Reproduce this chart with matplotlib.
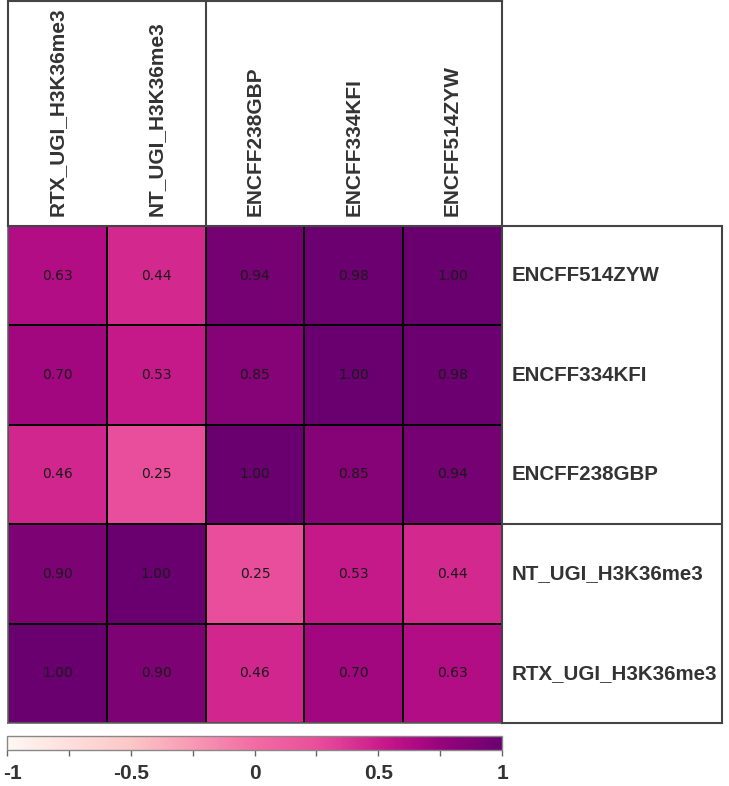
import numpy as np
import matplotlib
matplotlib.use("Agg")
import matplotlib.pyplot as plt
from matplotlib import font_manager
from matplotlib.colors import LinearSegmentedColormap
from matplotlib.transforms import ScaledTranslation

labels = ["RTX_UGI_H3K36me3", "NT_UGI_H3K36me3", "ENCFF238GBP", "ENCFF334KFI", "ENCFF514ZYW"]
corr = np.array([
    [1.00, 0.90, 0.46, 0.70, 0.63],
    [0.90, 1.00, 0.25, 0.53, 0.44],
    [0.46, 0.25, 1.00, 0.85, 0.94],
    [0.70, 0.53, 0.85, 1.00, 0.98],
    [0.63, 0.44, 0.94, 0.98, 1.00],
])
col_groups = [2, 3]   # group sizes along columns (left to right)
cbar_ticks = [-1, -0.5, 0, 0.5, 1]
cbar_ticklabels = ["-1", "-0.5", "0", "0.5", "1"]

cmap_stops = [-1.0, -0.5, 0.0, 0.25, 0.45, 0.55, 0.65, 0.75, 0.9, 1.0]
cmap_colors = ["#fff7f3", "#fcc6c6", "#f36ba3", "#e94f9b", "#d2288f",
               "#c21588", "#ae0b84", "#98047d", "#7e0274", "#6a0070"]

W, H = 729, 786
fig = plt.figure(figsize=(W / 100, H / 100), dpi=100)

def ax_px(x0, y0, x1, y1):
    return fig.add_axes([x0 / W, 1 - y1 / H, (x1 - x0) / W, (y1 - y0) / H])

names = {f.name for f in font_manager.fontManager.ttflist}
lab_font = "Liberation Sans" if "Liberation Sans" in names else "DejaVu Sans"
narrow_font = "Liberation Sans Narrow" if "Liberation Sans Narrow" in names else lab_font
txt_col = "#333333"
edge_col = "#444444"

n = len(labels)
cmap = LinearSegmentedColormap.from_list(
    "refmap", [((s + 1) / 2, c) for s, c in zip(cmap_stops, cmap_colors)])

# heatmap
ax = ax_px(8, 226, 502, 723)
mesh = ax.pcolormesh(np.arange(n + 1), np.arange(n + 1), corr, cmap=cmap, vmin=-1, vmax=1,
                     edgecolors="black", linewidth=1.2)
for i in range(n):
    for j in range(n):
        ax.text(j + 0.5, i + 0.5, f"{corr[i, j]:.2f}", ha="center", va="center",
                fontsize=10, color="#1a1a1a", family="DejaVu Sans")
ax.set_xlim(0, n)
ax.set_ylim(0, n)
ax.set_xticks([])
ax.set_yticks([])
for s in ax.spines.values():
    s.set_color("#666666")
    s.set_linewidth(1.2)

# column header box
axh = ax_px(8, 1, 502, 226)
axh.set_xlim(0, n)
axh.set_ylim(0, 1)
axh.set_xticks([])
axh.set_yticks([])
for s in axh.spines.values():
    s.set_color(edge_col)
    s.set_linewidth(1.5)
pos = 0
for g in col_groups[:-1]:
    pos += g
    axh.axvline(pos, color=edge_col, lw=1.5)
for j, lab in enumerate(labels):
    axh.text(j + 0.5, 0.045, lab, rotation=90, ha="center", va="bottom",
             fontsize=15, fontweight="bold", color=txt_col, family=lab_font)

# row label box
axr = ax_px(502, 226, 722, 723)
axr.set_xlim(0, 1)
axr.set_ylim(0, n)
axr.set_xticks([])
axr.set_yticks([])
for s in axr.spines.values():
    s.set_color(edge_col)
    s.set_linewidth(1.5)
pos = 0
for g in col_groups[:-1]:
    pos += g
    axr.axhline(pos, color=edge_col, lw=1.5)
for i, lab in enumerate(labels):
    axr.text(0.045, i + 0.5, lab, ha="left", va="center",
             fontsize=14.8, fontweight="bold", color=txt_col, family=lab_font)

# colorbar
axc = ax_px(7, 736, 502, 750)
cb = fig.colorbar(mesh, cax=axc, orientation="horizontal")
cb.outline.set_edgecolor("#888888")
cb.outline.set_linewidth(1.0)
cb.set_ticks(cbar_ticks)
cb.set_ticklabels(cbar_ticklabels)
axc.set_xticks([-0.75, -0.25, 0.25, 0.75], minor=True)
axc.tick_params(axis="x", which="both", length=4, width=1, color="#666666", pad=6,
                direction="out")
tls = axc.get_xticklabels()
for t in tls:
    t.set_fontsize(15)
    t.set_fontweight("bold")
    t.set_family(narrow_font)
    t.set_color(txt_col)
tls[0].set_ha("left")
tls[0].set_transform(tls[0].get_transform() + ScaledTranslation(-4 / 100, 0, fig.dpi_scale_trans))
tls[-1].set_ha("center")

fig.savefig("out.png", dpi=100)
